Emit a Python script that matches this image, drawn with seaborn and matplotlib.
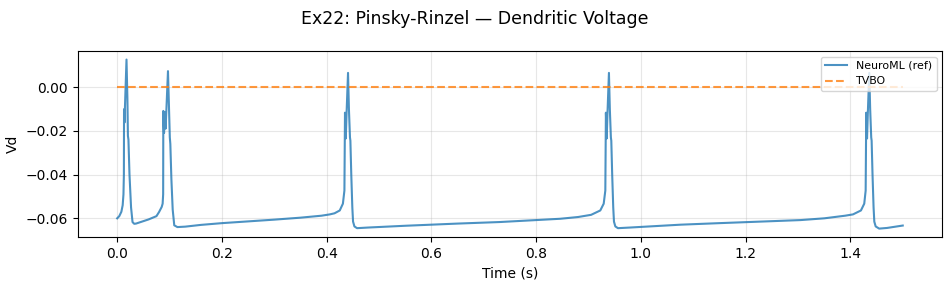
import matplotlib
matplotlib.use("Agg")
import matplotlib.pyplot as plt
import seaborn as sns
import pandas as pd

# ---- data ----
time_s = [
    # spike 1
    0.0000, 0.0040, 0.0080, 0.0105, 0.0120, 0.0128, 0.0131, 0.0140, 0.0150, 0.0178,
    0.0195, 0.0205, 0.0215, 0.0235, 0.0265, 0.0293, 0.0325, 0.0360,
    0.0600, 0.0750, 0.0800, 0.0850, 0.0868, 0.0878,
    # spike 2
    0.0881, 0.0895, 0.0910, 0.0925, 0.0970, 0.0990, 0.1005, 0.1015, 0.1035, 0.1060, 0.1090, 0.1150,
    0.1300, 0.1600, 0.2000, 0.2500, 0.3000, 0.3500, 0.3900, 0.4060, 0.4150, 0.4250, 0.4310, 0.4339,
    # spike 3
    0.4350, 0.4365, 0.4380, 0.4408, 0.4425, 0.4445, 0.4453, 0.4470, 0.4490, 0.4504, 0.4530, 0.4580,
    0.4800, 0.5500, 0.6500, 0.7300, 0.8000, 0.8460, 0.8800, 0.9050, 0.9225, 0.9290, 0.9321,
    # spike 4
    0.9332, 0.9347, 0.9362, 0.9390, 0.9407, 0.9427, 0.9435, 0.9452, 0.9472, 0.9486, 0.9512, 0.9562,
    0.9800, 1.0760, 1.1500, 1.2500, 1.3050, 1.3500, 1.3900, 1.4050, 1.4202, 1.4265, 1.4292,
    # spike 5
    1.4303, 1.4318, 1.4333, 1.4361, 1.4378, 1.4398, 1.4406, 1.4423, 1.4443, 1.4457, 1.4483, 1.4550,
    1.4700, 1.5000,
]
vd_neuroml = [
    # spike 1
    -0.0600, -0.0590, -0.0570, -0.0540, -0.0490, -0.0400, -0.0101, -0.0162, -0.0080, 0.0126,
    -0.0050, -0.0223, -0.0240, -0.0400, -0.0550, -0.0617, -0.0625, -0.0624,
    -0.0605, -0.0590, -0.0571, -0.0548, -0.0533, -0.0490,
    # spike 2
    -0.0109, -0.0210, -0.0114, -0.0190, 0.0073, -0.0100, -0.0230, -0.0260, -0.0420, -0.0560, -0.0632, -0.0640,
    -0.0638, -0.0630, -0.0622, -0.0614, -0.0606, -0.0597, -0.0588, -0.0582, -0.0577, -0.0564, -0.0533, -0.0473,
    # spike 3
    -0.0117, -0.0235, -0.0120, 0.0065, -0.0100, -0.0230, -0.0245, -0.0400, -0.0550, -0.0615, -0.0637, -0.0645,
    -0.0642, -0.0634, -0.0624, -0.0617, -0.0608, -0.0602, -0.0594, -0.0584, -0.0564, -0.0533, -0.0473,
    # spike 4
    -0.0117, -0.0235, -0.0120, 0.0065, -0.0100, -0.0230, -0.0245, -0.0400, -0.0550, -0.0615, -0.0637, -0.0645,
    -0.0642, -0.0629, -0.0622, -0.0613, -0.0608, -0.0600, -0.0588, -0.0582, -0.0564, -0.0533, -0.0473,
    # spike 5
    -0.0117, -0.0235, -0.0120, 0.0065, -0.0100, -0.0230, -0.0245, -0.0400, -0.0550, -0.0615, -0.0637, -0.0647,
    -0.0644, -0.0633,
]
time_tvbo = [0.0, 1.5]
vd_tvbo = [0.0, 0.0]

title = "Ex22: Pinsky-Rinzel \u2014 Dendritic Voltage"

plt.style.use("default")
plt.rcParams["font.family"] = ["DejaVu Sans"]

fig, ax = plt.subplots(figsize=(9.5, 2.87), dpi=100)

df_ref = pd.DataFrame({"t": time_s, "v": vd_neuroml})
df_tv = pd.DataFrame({"t": time_tvbo, "v": vd_tvbo})

sns.lineplot(data=df_ref, x="t", y="v", ax=ax, color="C0", alpha=0.8, lw=1.5,
             label="NeuroML (ref)", sort=False, estimator=None)
sns.lineplot(data=df_tv, x="t", y="v", ax=ax, color="C1", alpha=0.8, lw=1.5,
             linestyle="--", label="TVBO", sort=False, estimator=None)

ax.set_xlabel("Time (s)")
ax.set_ylabel("Vd")
ax.grid(True, alpha=0.3)
ax.legend(loc="upper right", fontsize=7.9)
fig.suptitle(title, fontsize=12.5, y=0.965)
fig.subplots_adjust(left=0.082, right=0.9916, top=0.822, bottom=0.174)
fig.savefig("out.png", dpi=100)
